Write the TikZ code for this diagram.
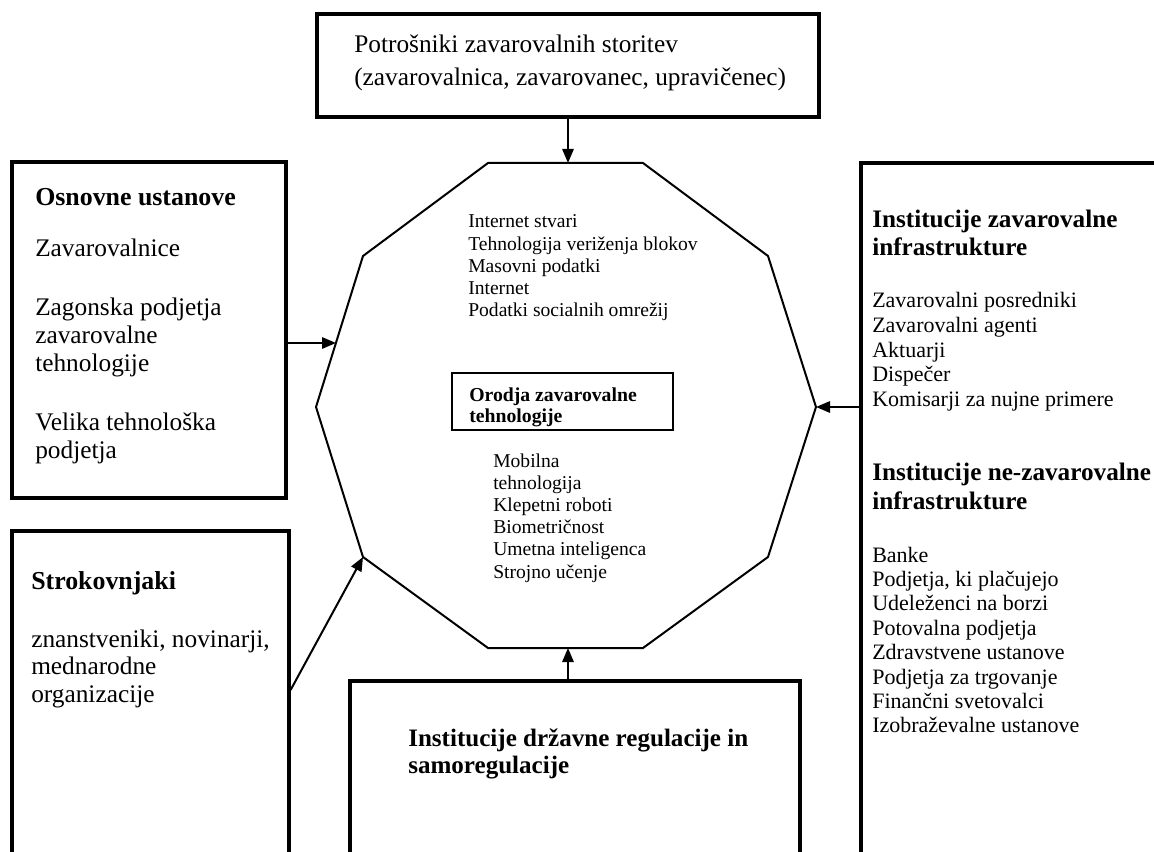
\documentclass[tikz,border=0pt]{standalone}
\usepackage{fontspec}
\setmainfont{Liberation Serif}
\usetikzlibrary{arrows.meta,fit}
\begin{document}
\begin{tikzpicture}[x=0.75pt,y=-0.75pt,
  boxst/.style={draw, line width=2.4pt, inner sep=0pt},
  arr/.style={line width=1.5pt, -{Triangle[length=10.5pt,width=8.5pt]}},
  txt/.style={anchor=base west, inner sep=0pt},
  ftop/.style={font=\fontsize{19}{23}\selectfont},
  fleft/.style={font=\fontsize{19}{23}\selectfont},
  fleftb/.style={font=\fontsize{19.4}{23}\selectfont\bfseries},
  fright/.style={font=\fontsize{16.5}{20}\selectfont},
  frightb/.style={font=\fontsize{18.9}{22}\selectfont\bfseries},
  fbotb/.style={font=\fontsize{18.8}{22}\selectfont\bfseries},
  fdec/.style={font=\fontsize{14.7}{17}\selectfont},
  fdecb/.style={font=\fontsize{14.8}{17}\selectfont\bfseries}]
\useasboundingbox (0,0) rectangle (1154,852);
\clip (0,0) rectangle (1154,852);
\fill[white] (0,0) rectangle (1154,852);

% boxes
\node[boxst, fit={(317,14) (819,117)}] (top) {};
\node[boxst, fit={(12,162) (286,498)}] (lb1) {};
\node[boxst, fit={(12,531) (289,900)}] (lb2) {};
\node[boxst, fit={(350,681) (800,900)}] (bot) {};
\node[boxst, fit={(861,163) (1200,900)}] (rb) {};

% decagon
\coordinate (d1) at (316,407);
\coordinate (d2) at (363,256);
\coordinate (d3) at (488,163);
\coordinate (d4) at (643,163);
\coordinate (d5) at (768,256);
\coordinate (d6) at (816,407);
\coordinate (d7) at (768,557);
\coordinate (d8) at (643,648);
\coordinate (d9) at (488,648);
\coordinate (d10) at (363,557);
\draw[line width=1.5pt, line join=miter] (d1) -- (d2) -- (d3) -- (d4) -- (d5) -- (d6) -- (d7) -- (d8) -- (d9) -- (d10) -- cycle;

\node[draw, line width=2.2pt, inner sep=0pt, fit={(452,373) (673,430)}] (inner) {};

% connector end points
\coordinate (dtop) at (568,163);
\coordinate (dbot) at (568,648);
\coordinate (dl) at (336,343);
\coordinate (s0) at (0,690);

\draw[arr] (top.south -| dtop) -- (dtop);
\draw[arr] (lb1.east |- dl) -- (dl);
\draw[arr] (lb2.east |- s0) -- (d10);
\draw[arr] (bot.north -| dbot) -- (dbot);
\draw[arr] (rb.west |- d6) -- (d6);

% top box text
\node[txt, ftop] (t1) at (354,53) {Potrošniki zavarovalnih storitev};
\node[txt, ftop] (t2) at (354,86) {(zavarovalnica, zavarovanec, upravičenec)};

% left box 1
\node[txt, fleftb] (l1h) at (35,206) {Osnovne ustanove};
\node[txt, fleft] (l1a) at (35,257) {Zavarovalnice};
\node[txt, fleft] (l1b) at (35,316) {Zagonska podjetja};
\node[txt, fleft] (l1c) at (35,344) {zavarovalne};
\node[txt, fleft] (l1d) at (35,372) {tehnologije};
\node[txt, fleft] (l1e) at (35,431) {Velika tehnološka};
\node[txt, fleft] (l1f) at (35,459) {podjetja};

% left box 2
\node[txt, fleftb] (l2h) at (31,589) {Strokovnjaki};
\node[txt, fleft] (l2a) at (31,647) {znanstveniki, novinarji,};
\node[txt, fleft] (l2b) at (31,674) {mednarodne};
\node[txt, fleft] (l2c) at (31,702) {organizacije};

% bottom box
\node[txt, fbotb] (b1) at (408,746) {Institucije državne regulacije in};
\node[txt, fbotb] (b2) at (408,773) {samoregulacije};

% right box
\node[txt, frightb] (r1h) at (872,228) {Institucije zavarovalne};
\node[txt, frightb] (r1i) at (872,256) {infrastrukture};
\foreach \t [count=\i] in {Zavarovalni posredniki, Zavarovalni agenti, Aktuarji, Dispečer, Komisarji za nujne primere}
  \node[txt, fright] (ra\i) at (872,{308+(\i-1)*24.6}) {\t};
\node[txt, frightb] (r2h) at (872,480) {Institucije ne-zavarovalne};
\node[txt, frightb] (r2i) at (872,509) {infrastrukture};
\foreach \t [count=\i] in {Banke, {Podjetja, ki plačujejo}, Udeleženci na borzi, Potovalna podjetja, Zdravstvene ustanove, Podjetja za trgovanje, Finančni svetovalci, Izobraževalne ustanove}
  \node[txt, fright] (rb\i) at (872,{562+(\i-1)*24.4}) {\t};

% decagon texts
\foreach \t [count=\i] in {Internet stvari, Tehnologija veriženja blokov, Masovni podatki, Internet, Podatki socialnih omrežij}
  \node[txt, fdec] (dt\i) at (468,{228+(\i-1)*22.2}) {\t};
\node[txt, fdecb] (in1) at (469,402) {Orodja zavarovalne};
\node[txt, fdecb] (in2) at (469,423) {tehnologije};
\foreach \t [count=\i] in {Mobilna, tehnologija, Klepetni roboti, Biometričnost, Umetna inteligenca, Strojno učenje}
  \node[txt, fdec] (db\i) at (493,{467+(\i-1)*22.2}) {\t};
\end{tikzpicture}
\end{document}
